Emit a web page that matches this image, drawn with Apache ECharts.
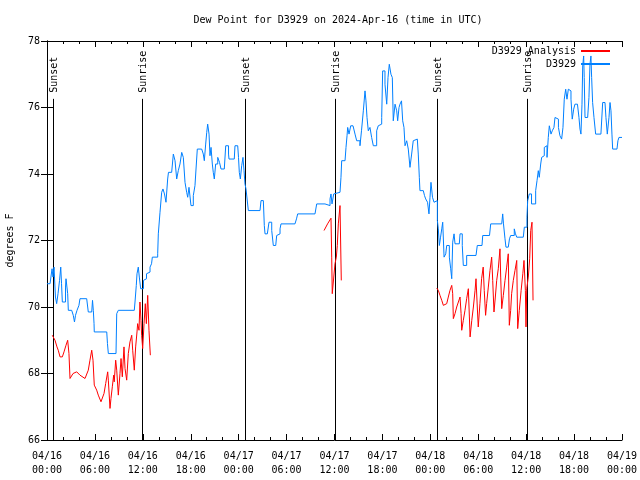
<!DOCTYPE html>
<html>
<head>
<meta charset="utf-8">
<script src="https://cdn.jsdelivr.net/npm/echarts@6/dist/echarts.min.js"></script>
<style>html,body{margin:0;padding:0;background:#fff}#c{width:640px;height:480px}</style>
</head>
<body>
<div id="c"></div>
<script>
// time in hours since 2024-04-16 00:00 UTC
const obsHours = [0,0.38,0.63,0.75,0.88,1.06,1.21,1.38,1.57,1.72,1.82,1.92,2.17,2.32,2.38,2.59,2.67,3.09,3.29,3.44,3.57,3.76,4.0,4.13,4.97,5.17,5.6,5.7,5.8,5.89,5.92,7.48,7.57,7.68,8.64,8.73,8.93,10.93,11.02,11.18,11.27,11.43,11.56,11.73,11.93,12.08,12.27,12.46,12.65,12.9,13.09,13.19,13.52,13.86,13.94,14.15,14.36,14.52,14.71,14.9,15.11,15.21,15.61,15.82,16.03,16.24,16.44,16.65,16.87,17.07,17.28,17.49,17.62,17.78,18.03,18.32,18.53,18.66,18.82,19.37,19.57,19.7,19.87,20.0,20.12,20.29,20.41,20.54,20.7,20.82,20.95,21.12,21.38,21.6,21.79,22.2,22.38,22.63,22.73,22.79,23.45,23.54,23.88,23.98,24.08,24.21,24.38,24.54,24.67,24.79,24.92,25.13,25.21,26.67,26.8,27.09,27.21,27.3,27.59,27.8,28.05,28.14,28.34,28.64,28.76,28.99,29.18,29.3,31.05,31.24,31.39,33.56,33.77,34.81,35.06,35.44,35.56,35.69,35.9,36.06,36.69,36.81,36.9,37.32,37.44,37.57,37.65,37.82,38.03,38.32,38.57,38.78,38.94,39.19,39.38,39.61,39.82,39.94,40.07,40.23,40.44,40.65,40.86,41.07,41.28,41.48,41.7,41.91,42.03,42.2,42.32,42.54,42.7,42.86,43.07,43.24,43.36,43.58,43.79,43.91,44.08,44.2,44.39,44.54,44.7,44.83,45.04,45.24,45.45,45.66,45.86,46.08,46.37,46.49,46.62,46.7,47.12,47.27,47.42,47.65,47.83,47.96,48.08,48.27,48.46,48.71,48.88,49.0,49.13,49.28,49.43,49.55,49.72,49.93,50.05,50.28,50.38,50.55,50.68,50.8,50.97,51.09,51.63,51.72,51.88,52.0,52.13,52.34,52.55,53.72,53.88,54.47,54.56,55.41,55.56,56.94,57.06,57.16,57.35,57.47,57.76,57.91,58.06,58.29,58.51,58.66,58.82,59.64,59.77,59.98,60.1,60.19,60.39,60.57,60.67,60.92,61.19,61.36,61.52,61.64,61.82,61.94,62.11,62.27,62.48,62.61,62.77,62.9,63.11,63.27,63.48,63.61,63.86,64.04,64.23,64.44,64.61,64.77,64.95,65.11,65.28,65.49,65.61,65.77,65.95,66.11,66.42,66.61,66.74,66.86,66.99,67.08,67.2,67.27,67.37,67.7,67.86,67.99,68.11,68.2,68.32,68.49,68.7,69.36,69.58,69.87,69.99,70.16,70.37,70.5,70.62,70.74,70.83,71.37,71.49,71.62,72.0];
const obsDewF = [70.7,70.7,71.15,70.9,71.2,70.3,70.1,70.4,70.8,71.2,70.7,70.15,70.15,70.6,70.85,70.4,69.9,69.9,69.75,69.55,69.75,69.9,70.05,70.25,70.25,69.85,69.85,70.2,69.9,69.5,69.25,69.25,68.9,68.6,68.6,69.8,69.9,69.9,70.15,70.65,71.0,71.2,70.9,70.55,70.55,70.8,70.85,71.0,71.05,71.2,71.3,71.5,71.5,71.6,72.2,72.85,73.45,73.55,73.4,73.15,73.85,74.05,74.05,74.6,74.4,73.85,74.1,74.3,74.65,74.5,73.75,73.45,73.3,73.6,73.05,73.35,73.65,74.15,74.75,74.75,74.6,74.4,74.9,75.25,75.5,75.2,74.55,74.8,74.3,74.05,73.85,74.3,74.5,74.35,74.15,74.15,74.85,74.85,74.6,74.45,74.45,74.85,74.85,74.5,74.05,73.85,74.25,74.5,74.1,73.7,73.55,73.55,72.9,72.9,73.2,73.2,72.45,72.2,72.2,72.55,72.55,72.3,71.85,71.85,72.15,72.2,72.35,72.5,72.5,72.65,72.8,72.8,73.1,73.1,73.05,73.25,73.4,73.1,73.4,73.45,73.45,73.9,74.4,74.4,74.8,75.15,75.4,75.2,75.45,75.45,75.2,75.0,75.0,74.85,75.3,75.9,76.5,76.2,75.7,75.3,75.4,75.1,74.85,74.85,75.3,75.45,75.5,75.7,77.1,77.1,76.7,76.1,76.9,77.3,77.0,76.9,75.6,76.1,75.9,75.6,76.0,76.1,76.2,75.6,75.4,74.85,75.0,74.75,74.2,74.6,75.0,75.05,75.05,74.6,73.9,73.5,73.5,73.35,73.25,73.15,72.8,73.3,73.75,73.3,73.15,73.2,72.6,72.35,71.85,72.1,72.35,72.55,71.5,71.6,71.85,71.85,71.5,71.15,70.85,71.95,72.2,71.9,71.9,72.2,72.2,71.85,71.25,71.25,71.55,71.55,71.85,71.85,72.15,72.15,72.5,72.5,72.8,72.5,72.05,71.8,71.8,72.05,72.15,72.15,72.35,72.2,72.1,72.1,72.4,72.4,72.7,73.2,73.4,73.4,73.1,73.1,73.5,73.8,74.1,73.9,74.3,74.5,74.55,74.8,74.85,74.5,75.1,75.45,75.2,75.3,75.4,75.7,75.65,75.4,75.15,75.05,75.4,76.25,76.55,76.25,76.55,76.5,76.25,75.65,75.95,76.1,76.1,75.7,75.35,75.2,76.1,77.25,77.55,76.9,75.7,75.7,76.3,77.3,77.55,76.9,76.15,75.7,75.2,75.2,76.15,76.15,75.7,75.2,75.7,76.15,75.9,75.2,74.75,74.75,75.0,75.1,75.1];

// analysis series (null = gap)
const anaHours = [0.66,1.0,1.25,1.41,1.63,1.92,2.13,2.38,2.59,2.75,2.88,3.26,3.72,4.13,4.76,5.17,5.38,5.6,5.76,5.92,6.22,6.42,6.76,6.92,7.14,7.35,7.6,7.68,7.89,8.01,8.18,8.35,8.42,8.6,8.73,8.93,9.14,9.27,9.43,9.64,9.77,9.98,10.18,10.39,10.61,10.73,10.93,11.1,11.27,11.35,11.52,11.64,11.77,11.85,11.98,12.15,12.31,12.44,12.61,12.77,12.94,
  20,
  34.69,35.13,35.56,35.65,35.72,35.94,36.06,36.23,36.35,36.48,36.69,36.85,
  42,
  48.8,49.0,49.21,49.43,49.63,49.84,50.05,50.25,50.46,50.68,50.8,50.88,51.09,51.3,51.51,51.72,51.85,51.93,52.13,52.34,52.55,52.76,52.89,52.98,53.19,53.39,53.6,53.72,53.88,54.0,54.21,54.42,54.62,54.75,54.92,55.05,55.26,55.47,55.68,55.81,55.97,56.14,56.31,56.51,56.72,56.81,56.94,57.14,57.35,57.56,57.76,57.89,58.06,58.18,58.39,58.6,58.82,58.94,59.14,59.37,59.58,59.73,59.9,59.98,60.07,60.27,60.44,60.57,60.73,60.86];
const anaDewF = [69.15,69.0,68.8,68.7,68.5,68.5,68.65,68.85,69.0,68.6,67.85,68.0,68.05,67.95,67.85,68.1,68.4,68.7,68.4,67.65,67.5,67.35,67.15,67.15,67.4,67.7,68.05,67.8,66.95,67.25,67.6,67.95,67.75,68.4,68.1,67.35,68.0,68.45,67.9,68.8,68.15,67.8,68.6,68.95,69.15,68.7,68.1,68.8,69.25,69.5,69.3,70.15,69.6,69.15,68.75,69.5,70.1,69.5,70.35,69.3,68.55,
  null,
  72.3,72.5,72.67,71.5,70.4,70.4,71.3,71.5,71.85,72.5,73.05,70.8,
  null,
  70.57,70.5,70.35,70.2,70.05,70.0,70.1,70.3,70.5,70.65,70.4,69.65,69.8,70.0,70.15,70.3,69.8,69.3,69.6,69.9,70.25,70.55,69.7,69.1,69.6,70.0,70.5,70.85,70.0,69.4,70.1,70.85,71.2,70.5,69.75,70.1,70.6,71.1,71.5,70.8,69.85,70.3,70.8,71.15,71.75,70.9,69.95,70.35,70.8,71.2,71.6,69.45,69.9,70.4,70.8,71.1,71.4,69.35,69.9,70.5,71.0,71.4,70.5,69.4,70.55,70.9,71.45,72.3,72.55,70.2];

const sunHours = [0.75, 11.93, 24.83, 36.02, 48.88, 60.07];
const sunNames = ['Sunset', 'Sunrise', 'Sunset', 'Sunrise', 'Sunset', 'Sunrise'];

const yTicks = [66, 68, 70, 72, 74, 76, 78];
const FONT = 'DejaVu Sans Mono';

function hourLabel(v) {
  const d = 16 + Math.floor(v / 24);
  const hh = v % 24;
  return '04/' + d + '\n' + (hh < 10 ? '0' : '') + hh + ':00';
}

const chart = echarts.init(document.getElementById('c'), null, {renderer: 'canvas'});
const axisCommon = {
  axisLine: {show: true, lineStyle: {color: '#000', width: 1}},
  axisTick: {show: true, inside: true, length: 6, lineStyle: {color: '#000'}},
  splitLine: {show: false}
};
chart.setOption({
  animation: false,
  backgroundColor: '#fff',
  title: {
    text: 'Dew Point for D3929 on 2024-Apr-16 (time in UTC)',
    left: 333, top: 10, textAlign: 'center',
    textStyle: {fontFamily: FONT, fontSize: 10, fontWeight: 'normal', color: '#000'}
  },
  legend: {
    data: ['D3929 Analysis', 'D3929'],
    orient: 'vertical', right: 25, top: 40, align: 'right',
    itemWidth: 29, itemHeight: 2, itemGap: 1, icon: 'rect',
    textStyle: {fontFamily: FONT, fontSize: 10, color: '#000', lineHeight: 12}
  },
  grid: {left: 47, right: 18, top: 41, bottom: 40, containLabel: false, outerBoundsMode: 'none'},
  xAxis: [
    Object.assign({}, axisCommon, {
      type: 'value', min: 0, max: 72, interval: 6, position: 'bottom',
      minorTick: {show: true, splitNumber: 3, length: 3, lineStyle: {color: '#000'}},
      axisLabel: {fontFamily: FONT, fontSize: 10, color: '#000', margin: 9, lineHeight: 14, formatter: hourLabel}
    }),
    Object.assign({}, axisCommon, {
      type: 'value', min: 0, max: 72, interval: 6, position: 'top',
      minorTick: {show: true, splitNumber: 3, length: 3, lineStyle: {color: '#000'}},
      axisLabel: {show: false}
    })
  ],
  yAxis: [
    Object.assign({}, axisCommon, {
      type: 'value', min: yTicks[0], max: yTicks[yTicks.length - 1], interval: 2, position: 'left',
      name: 'degrees F', nameLocation: 'middle', nameGap: 32, nameRotate: 90,
      nameTextStyle: {fontFamily: FONT, fontSize: 10, color: '#000'},
      axisLabel: {fontFamily: FONT, fontSize: 10, color: '#000', margin: 7}
    }),
    Object.assign({}, axisCommon, {
      type: 'value', min: yTicks[0], max: yTicks[yTicks.length - 1], interval: 2, position: 'right',
      axisLabel: {show: false}
    })
  ],
  series: [
    {
      type: 'custom', name: 'sun', silent: true, clip: false,
      data: sunHours.map(h => [h, 66]),
      encode: {x: 0, y: 1},
      renderItem: function (params, api) {
        const h = api.value(0);
        const p0 = api.coord([h, 66]);
        const p1 = api.coord([h, 76.26]);
        const pt = api.coord([h, 76.44]);
        const x = Math.round(p0[0]) + 0.5;
        return {
          type: 'group',
          children: [
            {type: 'line', shape: {x1: x, y1: p0[1], x2: x, y2: p1[1]}, style: {stroke: '#000', lineWidth: 1}},
            {type: 'text', x: x + 1, y: pt[1], rotation: Math.PI / 2,
              style: {text: sunNames[params.dataIndex], textAlign: 'left', textVerticalAlign: 'middle',
                font: '10px "' + FONT + '"', fill: '#000'}}
          ]
        };
      }
    },
    {
      type: 'line', name: 'D3929 Analysis', showSymbol: false, symbol: 'none', connectNulls: false,
      data: anaHours.map((h, i) => [h, anaDewF[i]]),
      lineStyle: {color: '#ff0000', width: 1}, itemStyle: {color: '#ff0000'}
    },
    {
      type: 'line', name: 'D3929', showSymbol: false, symbol: 'none', step: 'end',
      data: obsHours.map((h, i) => [h, obsDewF[i]]),
      lineStyle: {color: '#0080ff', width: 1}, itemStyle: {color: '#0080ff'}
    }
  ]
});
</script>
</body>
</html>
